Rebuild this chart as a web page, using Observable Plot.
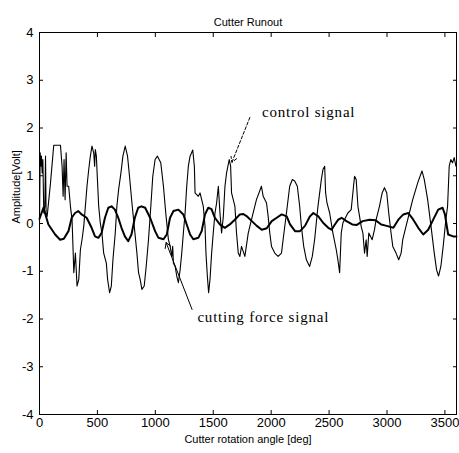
<!DOCTYPE html>
<html><head><meta charset="utf-8">
<script src="https://cdn.jsdelivr.net/npm/d3@7"></script>
<script src="https://cdn.jsdelivr.net/npm/@observablehq/plot@0.6"></script>
<style>body{margin:0;background:#fff}</style>
</head><body><div id="chart"></div>
<script>
const title = "Cutter Runout";
const xLabel = "Cutter rotation angle [deg]";
const yLabel = "Amplitude[Volt]";
const xTicks = [0, 500, 1000, 1500, 2000, 2500, 3000, 3500];
const yTicks = [-4, -3, -2, -1, 0, 1, 2, 3, 4];

// thin, large-amplitude signal
const forceAngle = [0,6,11,17,23,29,37,46,52,57,66,95,123,181,195,204,212,221,230,238,252,267,281,290,296,310,324,339,353,367,382,396,410,425,439,453,468,476,482,491,496,511,525,539,554,577,588,605,620,634,654,668,683,703,720,740,760,777,798,818,841,855,869,884,904,921,941,961,978,998,1018,1047,1070,1090,1113,1128,1142,1150,1156,1171,1185,1199,1214,1228,1242,1257,1271,1285,1300,1323,1337,1343,1371,1386,1414,1429,1437,1449,1460,1472,1486,1500,1515,1529,1544,1558,1572,1587,1601,1615,1638,1650,1658,1687,1701,1716,1730,1744,1773,1802,1830,1873,1916,1931,1960,1974,1988,2003,2031,2060,2089,2103,2132,2160,2183,2203,2226,2246,2261,2281,2304,2332,2355,2375,2404,2433,2447,2462,2470,2482,2505,2533,2562,2576,2591,2605,2619,2662,2691,2711,2720,2734,2749,2777,2792,2806,2820,2829,2843,2872,2892,2906,2935,2958,2978,2998,3015,3035,3050,3078,3101,3122,3136,3164,3193,3222,3265,3302,3322,3351,3380,3408,3428,3445,3465,3485,3508,3523,3537,3551,3566,3580,3595];
const forceValue = [0,1.48,1.2,1.41,1.06,1.34,0.22,0.36,1.41,0.22,0.15,0.85,1.64,1.64,1.2,0.57,1.34,0.5,1.48,0.78,0.78,0.36,0.08,-0.55,-1.03,-0.62,-1.31,-1.17,-0.55,-0.34,-0.06,0.36,0.78,1.13,1.41,1.62,1.48,1.2,1.55,1.41,1.13,0.36,0.01,-0.2,-0.62,-0.83,-1.17,-1.45,-1.31,-0.76,-0.2,0.36,0.71,1.06,1.41,1.62,1.41,0.99,0.43,-0.06,-0.62,-1.03,-1.17,-1.38,-1.31,-0.9,-0.34,0.36,0.99,1.34,1.41,1.27,0.78,0.22,-0.34,-0.48,-0.69,-0.48,-0.83,-0.9,-1.1,-1.24,-0.97,-0.62,-0.2,0.22,0.78,1.2,1.41,1.54,1.2,0.64,0.57,0.64,0.36,-0.06,-0.62,-1.1,-1.45,-1.17,-0.62,-0.2,0.22,0.43,0.78,0.22,-0.2,0.15,0.78,1.06,1.34,1.2,0.64,0.36,-0.2,-0.62,-0.69,-0.48,-0.69,-0.2,0.08,0.5,0.78,0.57,0.43,0.15,-0.2,-0.48,-0.62,-0.69,-0.62,-0.34,0.22,0.78,0.92,0.89,0.78,0.36,-0.06,-0.48,-0.76,-0.9,-0.69,-0.34,0.36,0.92,1.13,1.2,0.64,0.43,0.22,-0.2,-0.55,-0.76,-1.03,-0.2,0.01,0.22,0.29,0.78,0.99,0.92,0.36,-0.06,-0.2,-0.62,-0.34,-0.69,-0.2,-0.34,-0.13,0.08,0.36,0.64,0.75,0.64,0.22,-0.2,-0.48,-0.62,-0.76,-0.62,-0.34,-0.06,0.22,0.5,0.85,1.1,0.92,0.5,-0.06,-0.62,-0.97,-1.1,-0.9,-0.48,0.08,0.36,1.2,1.34,1.27,1.38,1.2];

// thick, small-amplitude signal
const controlAngle = [0,34,77,135,178,210,250,278,307,335,364,407,450,479,508,536,565,594,622,651,680,708,737,766,794,823,852,880,912,955,998,1027,1070,1099,1127,1156,1199,1242,1271,1300,1328,1371,1400,1429,1457,1485,1514,1557,1600,1643,1686,1730,1760,1790,1833,1876,1919,1962,2005,2048,2091,2134,2163,2206,2249,2292,2335,2364,2407,2450,2493,2521,2550,2579,2608,2650,2700,2740,2790,2850,2900,2950,2997,3055,3098,3141,3184,3227,3270,3313,3356,3399,3442,3480,3500,3528,3571,3600];
const controlValue = [0.1,0.33,-0.02,-0.23,-0.34,-0.32,-0.16,0.12,0.22,0.26,0.19,0.12,-0.09,-0.27,-0.3,-0.2,0.12,0.33,0.36,0.29,0.12,-0.09,-0.27,-0.37,-0.23,0.12,0.33,0.36,0.33,0.12,-0.16,-0.3,-0.33,-0.23,0.12,0.26,0.29,0.19,-0.02,-0.23,-0.33,-0.3,-0.16,0.19,0.33,0.3,0.12,-0.02,-0.09,-0.02,0.08,0.19,0.2,0.15,0.05,-0.05,-0.13,-0.1,0.05,0.12,0.19,0.15,-0.02,-0.16,-0.16,-0.05,0.15,0.22,0.15,0.01,-0.09,-0.13,-0.02,0.08,0.12,0.05,-0.02,-0.03,0.05,0.08,0.07,-0.02,-0.05,-0.09,0.08,0.19,0.22,0.08,-0.09,-0.23,-0.13,0.08,0.29,0.33,0.19,-0.23,-0.27,-0.27];

// annotation labels and arrows (data coordinates)
const labels = [
  {text: "control signal", angle: 2324, value: 2.33},
  {text: "cutting force signal", angle: 1932, value: -1.97}
];
const arrows = [
  {a1: 1816, v1: 2.22, a2: 1661, v2: 1.28, dashed: true},
  {a1: 1317, v1: -1.80, a2: 1093, v2: -0.40, dashed: false}
];

const force = forceAngle.map((a, i) => ({angle: a, value: forceValue[i]}));
const control = controlAngle.map((a, i) => ({angle: a, value: controlValue[i]}));
const narrow = "'Liberation Sans Narrow', 'Liberation Sans', Arial, sans-serif";
const serif = "'Liberation Serif', 'DejaVu Serif', serif";
const tl = 4;

const chart = Plot.plot({
  width: 459, height: 453,
  marginLeft: 39, marginRight: 3, marginTop: 32, marginBottom: 39,
  x: {domain: [0, 3600], label: null},
  y: {domain: [-4, 4], label: null},
  style: {fontFamily: narrow, fontSize: "13px", background: "white", color: "black"},
  marks: [
    // tick labels
    Plot.axisX({ticks: xTicks, tickSize: 0, tickPadding: 3, tickFormat: d => String(d), label: null, fontSize: 13}),
    Plot.axisY({ticks: yTicks, tickSize: 0, tickPadding: 6, tickFormat: d => String(d), label: null, fontSize: 13}),
    // inward tick marks on all four sides
    Plot.axisX({ticks: xTicks, tickSize: tl, dy: -tl, tickFormat: () => "", label: null}),
    Plot.axisX({anchor: "top", ticks: xTicks, tickSize: tl, dy: tl, tickFormat: () => "", label: null}),
    Plot.axisY({ticks: yTicks, tickSize: tl, dx: tl, tickFormat: () => "", label: null}),
    Plot.axisY({anchor: "right", ticks: yTicks, tickSize: tl, dx: -tl, tickFormat: () => "", label: null}),
    Plot.line(force, {x: "angle", y: "value", stroke: "black", strokeWidth: 1.1}),
    Plot.line(control, {x: "angle", y: "value", stroke: "black", strokeWidth: 2}),
    Plot.arrow(arrows.filter(d => d.dashed), {x1: "a1", y1: "v1", x2: "a2", y2: "v2", stroke: "black", strokeWidth: 1, headLength: 9, strokeDasharray: "3,2"}),
    Plot.arrow(arrows.filter(d => !d.dashed), {x1: "a1", y1: "v1", x2: "a2", y2: "v2", stroke: "black", strokeWidth: 1, headLength: 9}),
    Plot.text(labels, {x: "angle", y: "value", text: "text", fontFamily: serif, fontSize: 15, fill: "black", className: "annot"}),
    Plot.frame({stroke: "black", strokeWidth: 1}),
    Plot.text([title], {frameAnchor: "top", dy: -14, fontSize: 11, fill: "black"}),
    Plot.text([xLabel], {frameAnchor: "bottom", dy: 28, fontSize: 11, fill: "black"}),
    Plot.text([yLabel], {frameAnchor: "left", dx: -23, rotate: -90, fontSize: 11, fill: "black"})
  ]
});
d3.select(chart).selectAll("g.annot text").attr("letter-spacing", "0.8px");
document.getElementById("chart").appendChild(chart);
</script>
</body></html>
